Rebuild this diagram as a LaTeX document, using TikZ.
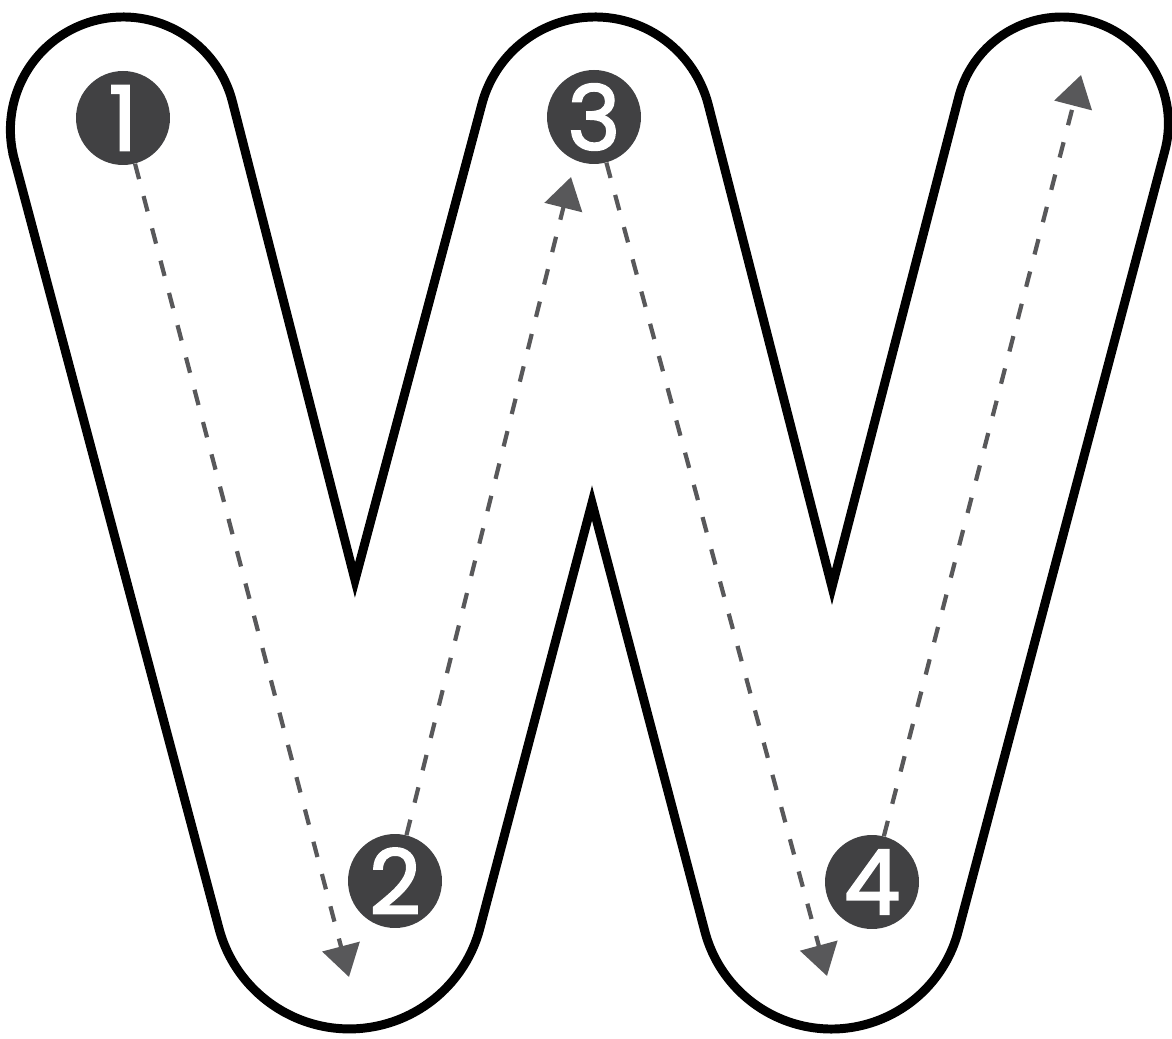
\documentclass[tikz,border=0pt]{standalone}
\usepackage{fontspec}
\usetikzlibrary{arrows.meta,calc}
\newfontfamily\digitfont[FakeBold=2.2]{Poppins}
\definecolor{wdisc}{HTML}{414143}
\definecolor{wtrace}{HTML}{58585A}

\begin{document}
\begin{tikzpicture}[x=0.02cm, y=0.02cm,
    outline/.style={line width=5.1pt, line join=miter},
    disc/.style={circle, fill=wdisc, minimum size=1.88cm, inner sep=0pt,
      text=white, font=\digitfont\fontsize{51}{51}\selectfont},
    trace/.style={wtrace, line width=2.4pt, dash pattern=on 9pt off 10pt,
      -{Triangle[length=0.63cm, width=0.76cm]}}]
  \useasboundingbox (0,0) rectangle (1172,1038);
  % centres of the round ends and the inner points
  \coordinate (cT1) at (123.2,908.2);
  \coordinate (cT2) at (595,904);
  \coordinate (cT3) at (1061.9,914.5);
  \coordinate (cB1) at (349.4,144);
  \coordinate (cB2) at (831.5,140);
  \coordinate (a1) at (355,458);
  \coordinate (a2) at (592,535);
  \coordinate (a3) at (832,451);

  % letter outline
  \draw[outline] ($(cT1)+(194.9:112.8)$) -- ($(cB1)+(194.9:134.9)$)
      arc[start angle=194.9, end angle=345.6, radius=134.9] -- (a2)
      -- ($(cB2)+(194.3:131)$) arc[start angle=194.3, end angle=345.2, radius=131]
      -- ($(cT3)+(-14.8:106.5)$) arc[start angle=-14.8, end angle=165.9, radius=106.5]
      -- (a3) -- ($(cT2)+(14:117)$) arc[start angle=14, end angle=165.3, radius=117]
      -- (a1) -- ($(cT1)+(14.1:112.8)$) arc[start angle=14.1, end angle=194.9, radius=112.8]
      -- cycle;

  % numbered starts
  \node[disc] (n1) at (123,920) {1};
  \node[disc] (n2) at (395,157) {2};
  \node[disc] (n3) at (594,921) {3};
  \node[disc] (n4) at (872,156) {4};

  % stroke ends
  \coordinate (endA) at (349,61);
  \coordinate (endB) at (571,861);
  \coordinate (endC) at (827,62);
  \coordinate (endD) at (1081,963);

  \draw[trace] (n1) -- (endA);
  \draw[trace] (n2) -- (endB);
  \draw[trace] (n3) -- (endC);
  \draw[trace] (n4) -- (endD);
\end{tikzpicture}
\end{document}
